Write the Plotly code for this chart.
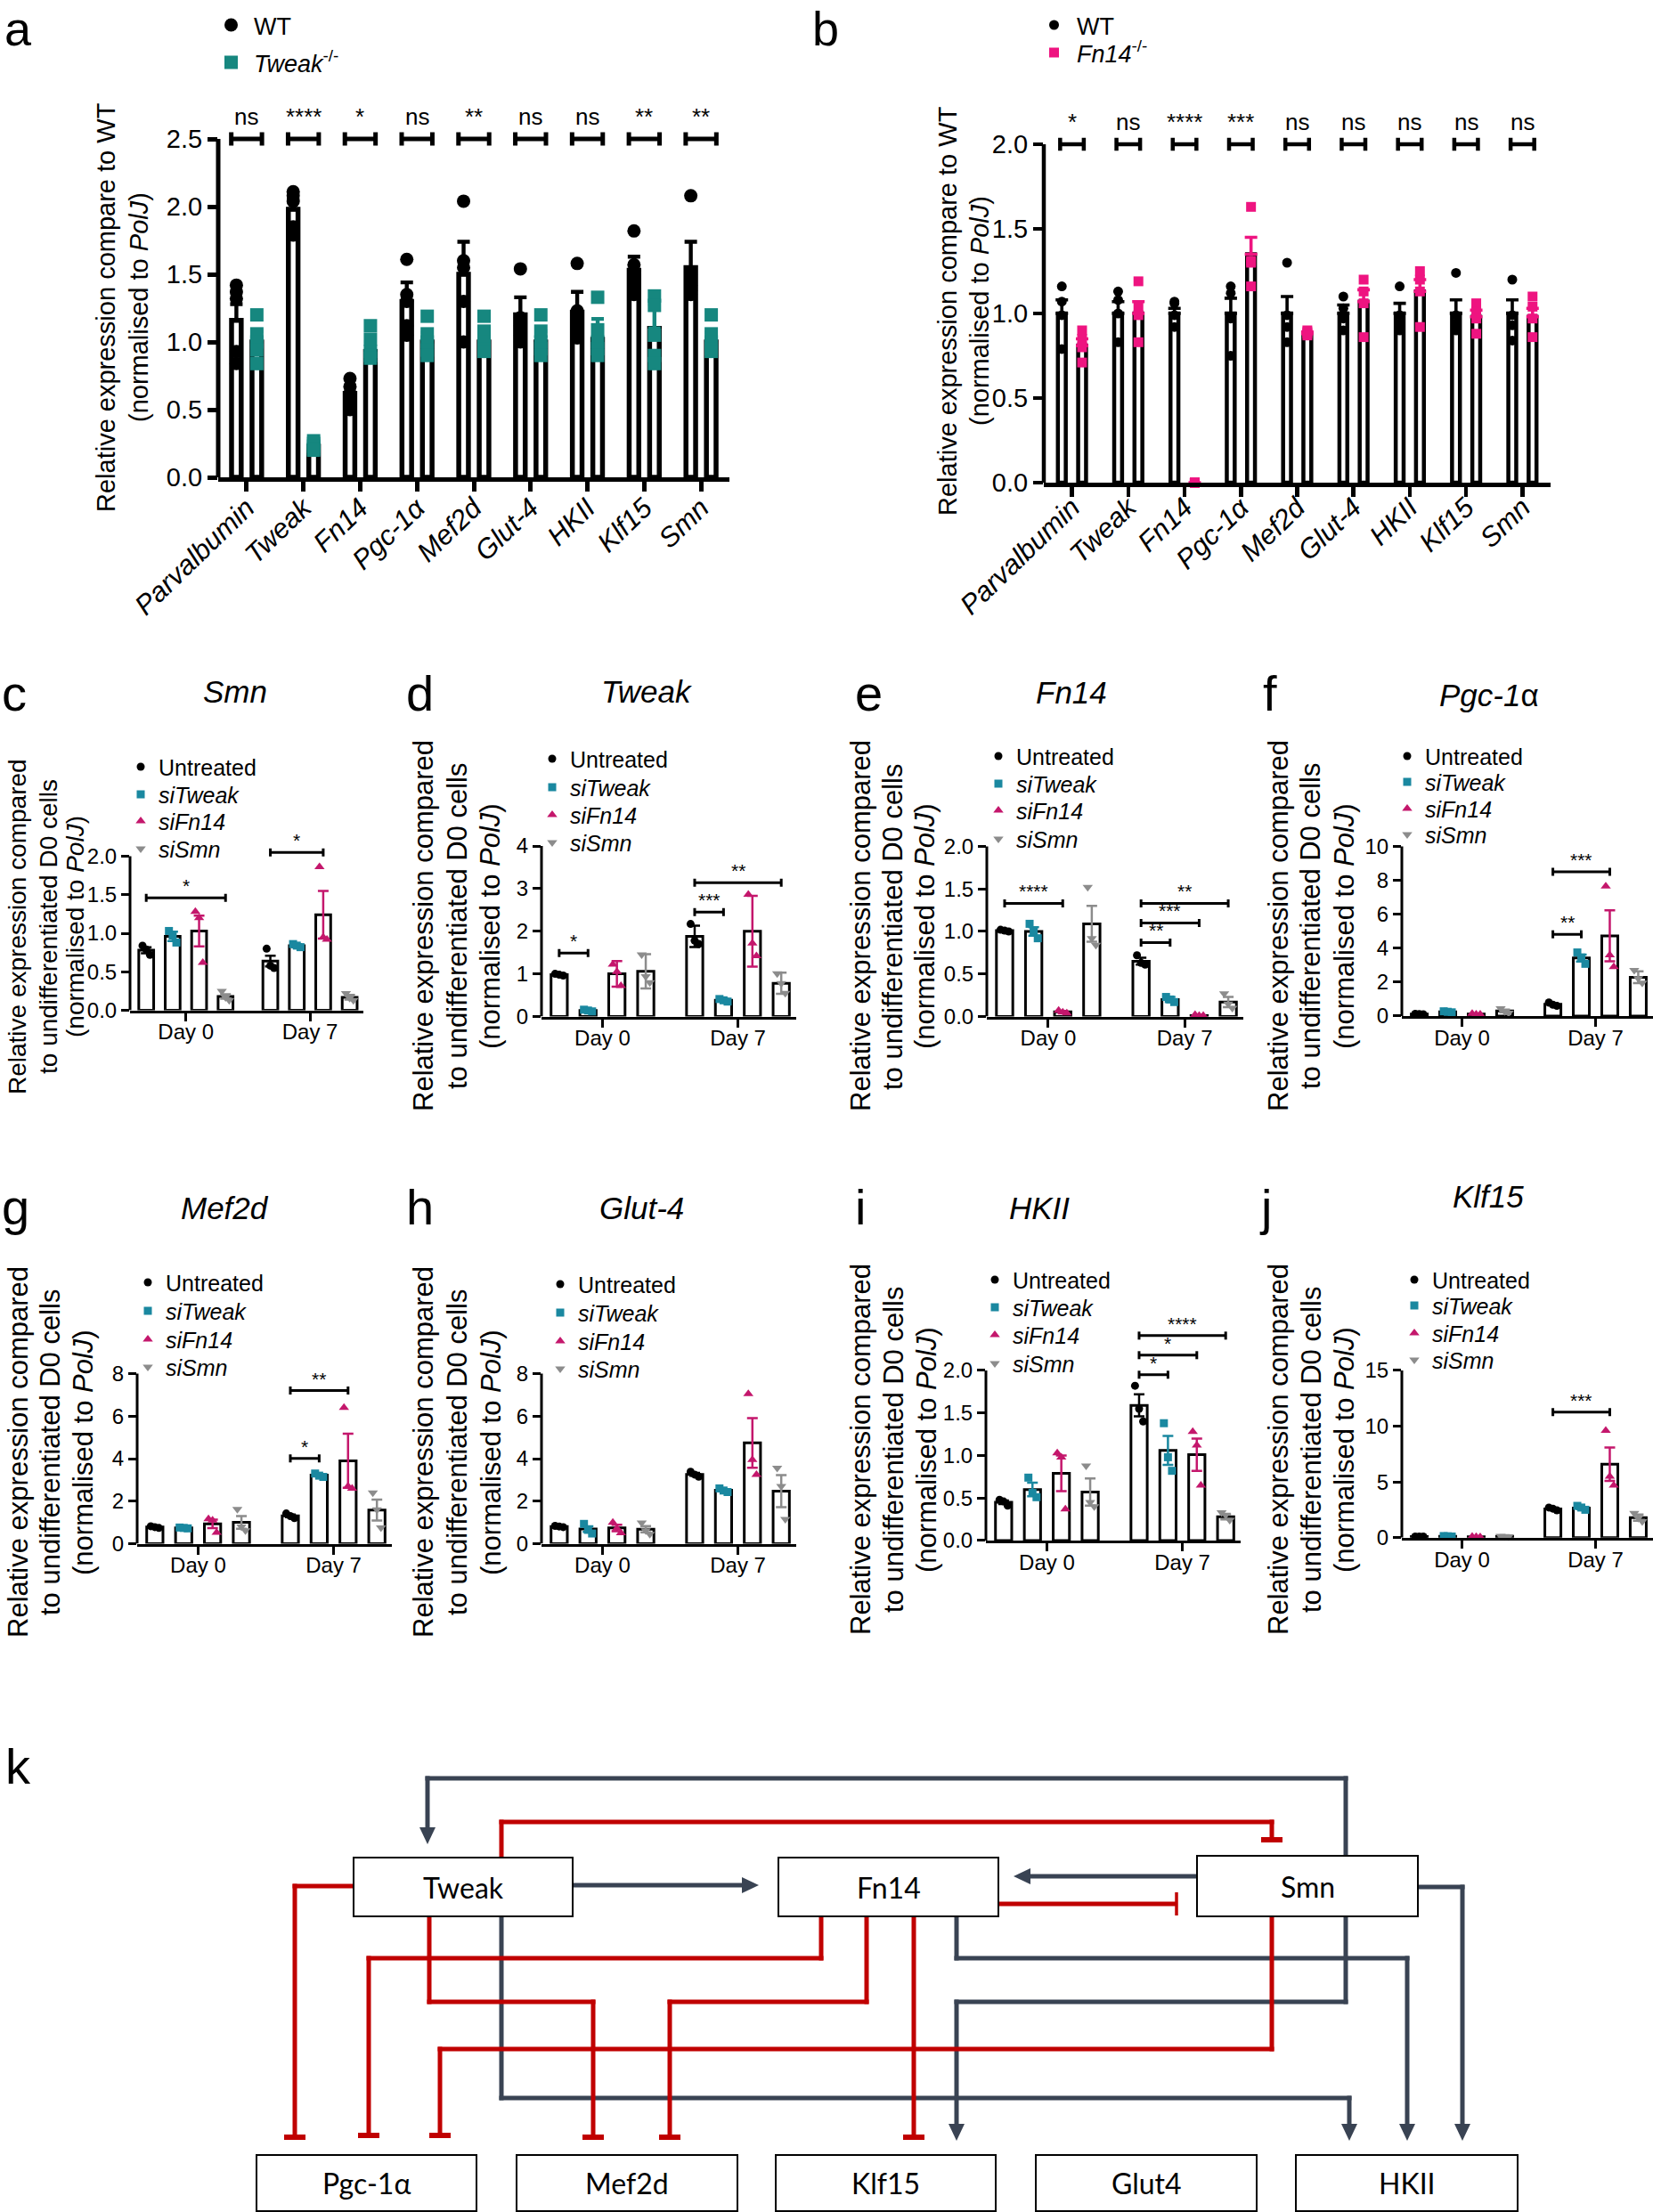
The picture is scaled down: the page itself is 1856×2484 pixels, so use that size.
import plotly.graph_objects as go

W, H = 1856, 2484
FONT = "Liberation Sans, Arial, Helvetica, sans-serif"
BOXFONT = "Lato, Open Sans, sans-serif"

# ---------------- Panels a / b : data ----------------
genes = ["Parvalbumin", "Tweak", "Fn14", "Pgc-1α", "Mef2d", "Glut-4", "HKII", "Klf15", "Smn"]

a_wt_mean = [1.16, 1.98, 0.62, 1.30, 1.50, 1.20, 1.22, 1.53, 1.55]
a_wt_err = [0.12, 0.07, 0.05, 0.14, 0.24, 0.13, 0.15, 0.10, 0.19]
a_ko_mean = [1.00, 0.23, 0.93, 1.00, 1.00, 1.00, 1.02, 1.10, 1.00]
a_ko_err = [0.08, 0.02, 0.07, 0.07, 0.07, 0.08, 0.15, 0.18, 0.07]
a_wt_pts = [[1.42, 1.37, 1.32, 0.93, 0.84], [2.11, 2.08, 2.04, 1.85, 1.79],
            [0.73, 0.67, 0.62, 0.55, 0.50], [1.61, 1.35, 1.30, 1.12, 1.05],
            [2.04, 1.60, 1.55, 1.30, 1.00], [1.54, 1.18, 1.12, 1.05, 1.00],
            [1.58, 1.23, 1.17, 1.10, 1.03], [1.82, 1.57, 1.50, 1.42, 1.35],
            [2.08, 1.50, 1.42, 1.38, 1.35]]
a_ko_pts = [[1.20, 1.06, 1.00, 0.94, 0.84], [0.27, 0.25, 0.23, 0.21, 0.20],
            [1.12, 1.02, 0.93, 0.90, 0.88], [1.19, 1.06, 1.00, 0.94, 0.90],
            [1.19, 1.08, 1.00, 0.95, 0.93], [1.20, 1.08, 1.00, 0.95, 0.90],
            [1.33, 1.09, 1.00, 0.95, 0.90], [1.34, 1.27, 1.05, 0.90, 0.84],
            [1.20, 1.06, 1.00, 0.95, 0.93]]
a_sig = ["ns", "****", "*", "ns", "**", "ns", "ns", "**", "**"]

b_wt_mean = [1.00, 1.00, 1.00, 1.00, 1.00, 1.00, 1.00, 1.00, 1.00]
b_wt_err = [0.08, 0.07, 0.03, 0.09, 0.10, 0.05, 0.06, 0.08, 0.08]
b_ko_mean = [0.81, 1.00, 0.00, 1.35, 0.88, 1.07, 1.13, 0.98, 0.98]
b_ko_err = [0.04, 0.07, 0.00, 0.10, 0.01, 0.07, 0.07, 0.04, 0.05]
b_wt_pts = [[1.16, 1.07, 0.99, 0.79], [1.13, 1.08, 1.00, 0.83], [1.07, 1.06, 0.99, 0.92],
            [1.16, 1.12, 0.97, 0.75], [1.30, 0.99, 0.92, 0.83], [1.10, 1.03, 0.97, 0.90],
            [1.16, 0.99, 0.94, 0.90], [1.24, 0.99, 0.94, 0.90], [1.20, 0.99, 0.93, 0.84]]
b_ko_pts = [[0.90, 0.85, 0.80, 0.71], [1.19, 1.04, 0.99, 0.83], [0.0, 0.0, 0.0, 0.0],
            [1.63, 1.31, 1.30, 1.16], [0.90, 0.89, 0.88, 0.87], [1.20, 1.13, 1.06, 0.86],
            [1.25, 1.20, 1.13, 0.92], [1.06, 1.01, 0.97, 0.88], [1.10, 1.04, 0.97, 0.86]]
b_sig = ["*", "ns", "****", "***", "ns", "ns", "ns", "ns", "ns"]

# ---------------- Panels c-j : data ----------------
treatments = ["Untreated", "<i>siTweak</i>", "<i>siFn14</i>", "<i>siSmn</i>"]
days = ["Day 0", "Day 7"]

c_mean = [[0.78, 0.64], [0.96, 0.84], [1.03, 1.24], [0.18, 0.17]]
c_err = [[0.04, 0.07], [0.06, 0.02], [0.20, 0.31], [0.03, 0.03]]
c_pts = [[[0.84, 0.79, 0.72], [0.80, 0.58, 0.55]], [[1.03, 0.97, 0.88], [0.86, 0.84, 0.82]],
         [[1.28, 1.20, 0.62], [1.86, 0.95, 0.92]], [[0.25, 0.17, 0.13], [0.22, 0.16, 0.13]]]
c_sig = [(0, 0, 3, 1.46, "*"), (1, 0, 2, 2.05, "*")]

d_mean = [[0.98, 1.88], [0.14, 0.38], [1.00, 2.00], [1.06, 0.78]]
d_err = [[0.02, 0.25], [0.02, 0.03], [0.30, 0.83], [0.40, 0.25]]
d_pts = [[[1.00, 0.98, 0.96], [2.17, 1.78, 1.70]], [[0.16, 0.14, 0.12], [0.41, 0.38, 0.35]],
         [[1.22, 1.05, 0.72], [2.86, 1.72, 1.42]], [[1.45, 0.94, 0.80], [1.01, 0.78, 0.55]]]
d_sig = [(0, 0, 1, 1.49, "*"), (1, 0, 1, 2.45, "***"), (1, 0, 3, 3.14, "**")]

e_mean = [[1.01, 0.65], [1.00, 0.20], [0.055, 0.01], [1.09, 0.17]]
e_err = [[0.01, 0.04], [0.05, 0.03], [0.01, 0.005], [0.21, 0.06]]
e_pts = [[[1.02, 1.01, 1.00], [0.72, 0.63, 0.61]], [[1.09, 1.00, 0.92], [0.23, 0.20, 0.17]],
         [[0.07, 0.05, 0.04], [0.02, 0.01, 0.01]], [[1.52, 0.92, 0.84], [0.27, 0.15, 0.10]]]
e_sig = [(0, 0, 2, 1.33, "****"), (1, 0, 1, 0.87, "**"), (1, 0, 2, 1.10, "***"), (1, 0, 3, 1.33, "**")]

f_mean = [[0.12, 0.69], [0.25, 3.42], [0.12, 4.73], [0.30, 2.29]]
f_err = [[0.01, 0.06], [0.02, 0.20], [0.02, 1.50], [0.08, 0.35]]
f_pts = [[[0.13, 0.12, 0.11], [0.80, 0.67, 0.60]], [[0.28, 0.25, 0.22], [3.75, 3.45, 3.08]],
         [[0.14, 0.11, 0.10], [7.65, 3.60, 2.90]], [[0.45, 0.28, 0.18], [2.70, 2.22, 1.96]]]
f_sig = [(1, 0, 1, 4.82, "**"), (1, 0, 2, 8.5, "***")]

g_mean = [[0.78, 1.31], [0.74, 3.22], [0.93, 3.90], [1.00, 1.58]]
g_err = [[0.02, 0.06], [0.01, 0.05], [0.20, 1.27], [0.30, 0.49]]
g_pts = [[[0.82, 0.78, 0.74], [1.42, 1.30, 1.20]], [[0.76, 0.74, 0.72], [3.30, 3.20, 3.14]],
         [[1.16, 1.10, 0.52], [6.40, 2.70, 2.60]], [[1.62, 0.80, 0.62], [2.40, 1.60, 0.75]]]
g_sig = [(1, 0, 1, 4.01, "*"), (1, 0, 2, 7.2, "**")]

h_mean = [[0.81, 3.26], [0.69, 2.51], [0.74, 4.74], [0.68, 2.47]]
h_err = [[0.02, 0.07], [0.13, 0.05], [0.15, 1.17], [0.15, 0.75]]
h_pts = [[[0.84, 0.81, 0.78], [3.38, 3.25, 3.15]], [[0.93, 0.65, 0.48], [2.60, 2.50, 2.43]],
         [[1.00, 0.72, 0.50], [7.05, 3.95, 3.25]], [[0.98, 0.62, 0.45], [3.56, 2.70, 1.15]]]
h_sig = []

i_mean = [[0.45, 1.59], [0.60, 1.06], [0.79, 1.01], [0.57, 0.28]]
i_err = [[0.02, 0.13], [0.08, 0.17], [0.21, 0.19], [0.16, 0.03]]
i_pts = [[[0.48, 0.46, 0.41], [1.82, 1.55, 1.40]], [[0.74, 0.56, 0.51], [1.38, 0.98, 0.82]],
         [[1.03, 0.98, 0.37], [1.28, 1.12, 0.65]], [[0.88, 0.45, 0.40], [0.33, 0.30, 0.24]]]
i_sig = [(1, 0, 1, 1.95, "*"), (1, 0, 2, 2.18, "*"), (1, 0, 3, 2.41, "****")]

j_mean = [[0.10, 2.58], [0.12, 2.66], [0.08, 6.59], [0.12, 1.80]]
j_err = [[0.00, 0.08], [0.01, 0.10], [0.01, 1.50], [0.01, 0.28]]
j_pts = [[[0.10, 0.10, 0.10], [2.70, 2.60, 2.45]], [[0.14, 0.12, 0.10], [2.85, 2.70, 2.50]],
         [[0.10, 0.08, 0.06], [9.60, 5.50, 4.70]], [[0.14, 0.12, 0.10], [2.20, 1.75, 1.45]]]
j_sig = [(1, 0, 2, 11.26, "***")]

# ---------------- Panel k : schematic ----------------
node_boxes = {
    "Tweak": (397, 2086, 643, 2152), "Fn14": (874, 2086, 1121, 2152), "Smn": (1344, 2084, 1592, 2152),
    "Pgc-1α": (288, 2420, 535, 2483), "Mef2d": (580, 2420, 828, 2483), "Klf15": (871, 2420, 1118, 2483),
    "Glut4": (1163, 2420, 1411, 2483), "HKII": (1455, 2420, 1704, 2483),
}
activations = [
    [(1511, 2084), (1511, 1997), (480, 1997), (480, 2071)],
    [(643, 2117), (852, 2117)],
    [(1344, 2107), (1138, 2107)],
    [(563, 2152), (563, 2356), (1515, 2356), (1515, 2404)],
    [(1074, 2152), (1074, 2199), (1580, 2199), (1580, 2404)],
    [(1511, 2152), (1511, 2248), (1074, 2248), (1074, 2404)],
    [(1592, 2119), (1642, 2119), (1642, 2404)],
]
inhibitions = [
    [(563, 2086), (563, 2046), (1428, 2046), (1428, 2066)],
    [(1121, 2138), (1321, 2138)],
    [(397, 2118), (331, 2118), (331, 2400)],
    [(922, 2152), (922, 2199), (414, 2199), (414, 2398)],
    [(482, 2152), (482, 2248), (666, 2248), (666, 2400)],
    [(973, 2152), (973, 2248), (752, 2248), (752, 2400)],
    [(1026, 2152), (1026, 2400)],
    [(1428, 2152), (1428, 2301), (494, 2301), (494, 2398)],
]

# ================= helpers =================
def fx(p):
    return p / W


def fy(p):
    return 1 - p / H


def sid(i):
    return "" if i == 1 else str(i)


fig = go.Figure()
shapes, annots, legends, axes = [], [], {}, {}
leg_count = [0]


def new_legend(cx, cy, fs, itemwidth=30):
    leg_count[0] += 1
    key = "legend" if leg_count[0] == 1 else "legend%d" % leg_count[0]
    h = fs * 1.3 + 3
    legends[key] = dict(x=fx(cx - 20), y=fy(cy - 5 - h / 2), xanchor="left", yanchor="top",
                        bgcolor="rgba(0,0,0,0)", borderwidth=0, itemsizing="trace",
                        itemwidth=itemwidth, font=dict(family=FONT, size=fs, color="black"))
    return key


def setup_axes(i, g, xrange, xtv, xtt, xfont, xangle, ytv, ytt, yfont, lw, tlen, xstand):
    s = sid(i)
    top = g["y0"] - (g["y0"] - g["ytp"]) * g["ymax"] / g["ytv"]
    axes["xaxis" + s] = dict(domain=[fx(g["xl"]), fx(g["xr"])], range=xrange, anchor="y" + s,
                             showline=True, linecolor="black", linewidth=lw, ticks="outside",
                             ticklen=tlen, tickwidth=lw, tickcolor="black", tickvals=xtv, ticktext=xtt,
                             tickfont=xfont, tickangle=xangle, showgrid=False, zeroline=False,
                             automargin=False, ticklabelstandoff=xstand)
    axes["yaxis" + s] = dict(domain=[fy(g["y0"]), fy(top)], range=[0, g["ymax"]], anchor="x" + s,
                             showline=False, ticks="outside", ticklen=tlen, tickwidth=lw,
                             tickcolor="black", tickvals=ytv, ticktext=ytt, tickfont=yfont,
                             showgrid=False, zeroline=False, automargin=False)
    shapes.append(dict(type="line", xref="x%s domain" % s, yref="y" + s, x0=0, x1=0, y0=0,
                       y1=g["ytv"], line=dict(color="black", width=lw), layer="above"))


def add_text(x, y, text, size, xref="paper", yref="paper", angle=0, xanchor="center",
             yanchor="middle", yshift=0, family=FONT):
    annots.append(dict(x=x, y=y, xref=xref, yref=yref, text=text, showarrow=False,
                       textangle=angle, xanchor=xanchor, yanchor=yanchor, yshift=yshift,
                       font=dict(family=family, size=size, color="black")))


def ytitle(lines, xs, yc, size):
    for t, xc in zip(lines, xs):
        add_text(fx(xc), fy(yc), t, size, angle=-90)


def bracket(i, x1, x2, y, half, label, lw, fs, shift):
    s = sid(i)
    for (a0, a1, b0, b1) in [(x1, x2, y, y), (x1, x1, y - half, y + half), (x2, x2, y - half, y + half)]:
        shapes.append(dict(type="line", xref="x" + s, yref="y" + s, x0=a0, x1=a1, y0=b0, y1=b1,
                           line=dict(color="black", width=lw), layer="above"))
    add_text((x1 + x2) / 2, y, label, fs, xref="x" + s, yref="y" + s, yanchor="bottom", yshift=shift)


def letter(ch, x):
    annots.append(dict(x=fx(x), y=1, xref="paper", yref="paper", text=ch, showarrow=False,
                       xanchor="left", yanchor="top", font=dict(family=FONT, size=54, color="black")))


# ================= panels a & b =================
ab_lines = ["Relative expression compare to WT", "(normalised to <i>PolJ</i>)"]
ab_specs = [
    dict(idx=1, g=dict(xl=245, xr=819, y0=536, ytp=156, ytv=2.5, ymax=2.85), wt_m=a_wt_mean,
         wt_e=a_wt_err, ko_m=a_ko_mean, ko_e=a_ko_err, wt_p=a_wt_pts, ko_p=a_ko_pts, sig=a_sig,
         color="#16877f", ko_name="<i>Tweak</i><sup>-/-</sup>", bw=0.17, lw=5.5, ms=15, axlw=5,
         br_half=0.05, br_w=0.27, br_y=2.5, leg=[(254, 28), (254, 70)], ytick=0.5,
         tx=(119, 156), ty=345, let=("a", 3), stand=-12, sshift=8),
    dict(idx=2, g=dict(xl=1172, xr=1741, y0=542, ytp=162, ytv=2.0, ymax=2.25), wt_m=b_wt_mean,
         wt_e=b_wt_err, ko_m=b_ko_mean, ko_e=b_ko_err, wt_p=b_wt_pts, ko_p=b_ko_pts, sig=b_sig,
         color="#ee1480", ko_name="<i>Fn14</i><sup>-/-</sup>", bw=0.14, lw=4.5, ms=11, axlw=4.5,
         br_half=0.038, br_w=0.21, br_y=2.0, leg=[(1178, 28), (1178, 59)], ytick=0.5,
         tx=(1064, 1100), ty=349, let=("b", 910), stand=-18, sshift=8),
]
for sp in ab_specs:
    i, g = sp["idx"], sp["g"]
    s = sid(i)
    n = len(genes)
    ytv = [k * sp["ytick"] for k in range(int(round(g["ytv"] / sp["ytick"])) + 1)]
    setup_axes(i, g, [-0.5, n - 0.5], list(range(n)), ["<i>%s</i>" % t for t in genes],
               dict(family=FONT, size=31, color="black"), -44, ytv, ["%.1f" % v for v in ytv],
               dict(family=FONT, size=29, color="black"), sp["axlw"], 11, sp["stand"])
    xw = [k - 0.18 for k in range(n)]
    xk = [k + 0.18 for k in range(n)]
    for xs, m, e, col in [(xw, sp["wt_m"], sp["wt_e"], "black"), (xk, sp["ko_m"], sp["ko_e"], sp["color"])]:
        fig.add_trace(go.Bar(x=xs, y=m, width=sp["bw"], xaxis="x" + s, yaxis="y" + s,
                             marker=dict(color="white", line=dict(color="black", width=sp["lw"])),
                             error_y=dict(type="data", array=e, arrayminus=[0] * n, symmetric=False,
                                          color=col, thickness=sp["lw"] * 0.8, width=7),
                             showlegend=False, hoverinfo="skip"))
    for xs, pts, col, sym, name, lg in [(xw, sp["wt_p"], "black", "circle", "WT", sp["leg"][0]),
                                        (xk, sp["ko_p"], sp["color"], "square", sp["ko_name"], sp["leg"][1])]:
        px_, py_ = [], []
        for k in range(n):
            for v in pts[k]:
                px_.append(xs[k])
                py_.append(v)
        fig.add_trace(go.Scatter(x=px_, y=py_, mode="markers", xaxis="x" + s, yaxis="y" + s,
                                 marker=dict(symbol=sym, size=sp["ms"], color=col, line=dict(width=0)),
                                 name=name, legend=new_legend(lg[0], lg[1], 27, 41), cliponaxis=False,
                                 hoverinfo="skip"))
    for k in range(n):
        bracket(i, k - sp["br_w"], k + sp["br_w"], sp["br_y"], sp["br_half"], sp["sig"][k],
                sp["axlw"], 26, sp["sshift"])
    ytitle(ab_lines, sp["tx"], sp["ty"], 29)
    letter(*sp["let"])

# ================= panels c-j =================
cj_lines = ["Relative expression compared", "to undifferentiated D0 cells", "(normalised to <i>PolJ</i>)"]
t_colors = ["#000000", "#1a88a0", "#c4176c", "#8c8c8c"]
t_symbols = ["circle", "square", "triangle-up", "triangle-down"]
cj_specs = [
    dict(idx=3, title="<i>Smn</i>", tc=(264, 776), let=("c", 0), mean=c_mean, err=c_err, pts=c_pts,
         sig=c_sig, g=dict(xl=146, xr=408, y0=1134.6, ytp=961.5, ytv=2.0, ymax=2.35), dt=0.5, fmt="%.1f",
         leg=(158, [861, 892, 922, 953]), tx=(19, 54, 84), ty=1041, ts=28),
    dict(idx=4, title="<i>Tweak</i>", tc=(726, 776), let=("d", 454), mean=d_mean, err=d_err, pts=d_pts,
         sig=d_sig, g=dict(xl=608, xr=894, y0=1141.5, ytp=950, ytv=4, ymax=4.1), dt=1, fmt="%d",
         leg=(620, [852, 884, 915, 946]), tx=(475, 513, 550), ty=1040, ts=31),
    dict(idx=5, title="<i>Fn14</i>", tc=(1203, 777), let=("e", 958), mean=e_mean, err=e_err, pts=e_pts,
         sig=e_sig, g=dict(xl=1108, xr=1396, y0=1141.5, ytp=950.5, ytv=2.0, ymax=2.05), dt=0.5, fmt="%.1f",
         leg=(1121, [849, 880, 910, 942]), tx=(966, 1002, 1038), ty=1040, ts=31),
    dict(idx=6, title="<i>Pgc-1</i>α", tc=(1672, 780), let=("f", 1416), mean=f_mean, err=f_err,
         pts=f_pts, sig=f_sig, g=dict(xl=1574, xr=1856, y0=1141, ytp=950.5, ytv=10, ymax=10.25), dt=2,
         fmt="%d", leg=(1580, [849, 878, 908, 937]), tx=(1435, 1471, 1509), ty=1040, ts=31),
    dict(idx=7, title="<i>Mef2d</i>", tc=(253, 1356), let=("g", 0), mean=g_mean, err=g_err, pts=g_pts,
         sig=g_sig, g=dict(xl=154, xr=440, y0=1733.5, ytp=1542.5, ytv=8, ymax=8.2), dt=2, fmt="%d",
         leg=(166, [1440, 1472, 1504, 1535]), tx=(20, 56, 93), ty=1631, ts=31),
    dict(idx=8, title="<i>Glut-4</i>", tc=(720, 1356), let=("h", 454), mean=h_mean, err=h_err,
         pts=h_pts, sig=h_sig, g=dict(xl=608, xr=894, y0=1733.5, ytp=1542.5, ytv=8, ymax=8.2), dt=2,
         fmt="%d", leg=(629, [1442, 1474, 1506, 1537]), tx=(475, 513, 551), ty=1631, ts=31),
    dict(idx=9, title="<i>HKII</i>", tc=(1167, 1356), let=("i", 958), mean=i_mean, err=i_err,
         pts=i_pts, sig=i_sig, g=dict(xl=1107, xr=1393, y0=1730, ytp=1539, ytv=2.0, ymax=2.65), dt=0.5,
         fmt="%.1f", leg=(1117, [1437, 1468, 1499, 1531]), tx=(966, 1003, 1040), ty=1628, ts=31),
    dict(idx=10, title="<i>Klf15</i>", tc=(1671, 1343), let=("j", 1412), mean=j_mean, err=j_err,
         pts=j_pts, sig=j_sig, g=dict(xl=1574, xr=1856, y0=1726.7, ytp=1539, ytv=15, ymax=15.3), dt=5,
         fmt="%d", leg=(1588, [1437, 1466, 1497, 1527]), tx=(1435, 1472, 1509), ty=1628, ts=31),
]
letter_rows = {"c": 745, "d": 745, "e": 745, "f": 745, "g": 1322, "h": 1322, "i": 1322, "j": 1322}
SPACING, BW = 0.213, 0.12
JIT = [-0.03, 0.0, 0.03]
for sp in cj_specs:
    i, g = sp["idx"], sp["g"]
    s = sid(i)
    nt = int(round(g["ytv"] / sp["dt"]))
    ytv = [k * sp["dt"] for k in range(nt + 1)]
    setup_axes(i, g, [-0.45, 1.43], [0, 1], days, dict(family=FONT, size=24, color="black"), 0,
               ytv, [sp["fmt"] % v for v in ytv], dict(family=FONT, size=24, color="black"), 3, 9, -8)
    ppu = (g["y0"] - g["ytp"]) / g["ytv"]
    xpos = [[d + (k - 1.5) * SPACING for d in range(2)] for k in range(4)]
    for k in range(4):
        fig.add_trace(go.Bar(x=xpos[k], y=sp["mean"][k], width=BW, xaxis="x" + s, yaxis="y" + s,
                             marker=dict(color="white", line=dict(color="black", width=3)),
                             error_y=dict(type="data", array=sp["err"][k], color=t_colors[k],
                                          thickness=2.5, width=6),
                             showlegend=False, hoverinfo="skip"))
    for k in range(4):
        px_, py_ = [], []
        for d in range(2):
            for m, v in enumerate(sp["pts"][k][d]):
                px_.append(xpos[k][d] + JIT[m])
                py_.append(v)
        fig.add_trace(go.Scatter(x=px_, y=py_, mode="markers", xaxis="x" + s, yaxis="y" + s,
                                 marker=dict(symbol=t_symbols[k], size=9 if k < 2 else 10,
                                             color=t_colors[k], line=dict(width=0)),
                                 name=treatments[k], legend=new_legend(sp["leg"][0], sp["leg"][1][k], 25),
                                 cliponaxis=False, hoverinfo="skip"))
    for (d, k1, k2, y, lab) in sp["sig"]:
        bracket(i, xpos[k1][d], xpos[k2][d], y, 4.5 / ppu, lab, 3, 21, 0)
    add_text(fx(sp["tc"][0]), fy(sp["tc"][1]), sp["title"], 35)
    ytitle(cj_lines, sp["tx"], sp["ty"], sp["ts"])
    ch, lx = sp["let"]
    annots.append(dict(x=fx(lx), y=fy(letter_rows[ch]), xref="paper", yref="paper", text=ch,
                       showarrow=False, xanchor="left", yanchor="top",
                       font=dict(family=FONT, size=56, color="black")))

# ================= panel k =================
axes["xaxis11"] = dict(domain=[0, 1], range=[0, W], visible=False, anchor="y11")
axes["yaxis11"] = dict(domain=[0, fy(1940)], range=[H, 1940], visible=False, anchor="x11")
DARK, RED = "#394353", "#c00000"


def kline(x0, y0, x1, y1, color, w):
    shapes.append(dict(type="line", xref="x11", yref="y11", x0=x0, y0=y0, x1=x1, y1=y1,
                       line=dict(color=color, width=w), layer="above"))


def draw_edge(pts, color, kind):
    (xa, ya), (xb, yb) = pts[-2], pts[-1]
    dx, dy = xb - xa, yb - ya
    L = (dx * dx + dy * dy) ** 0.5
    ux, uy = dx / L, dy / L
    pts = list(pts)
    if kind == "arrow":
        alen, ahw = 19, 9
        bx, by = xb - ux * alen, yb - uy * alen
        pts[-1] = (bx + ux * 2, by + uy * 2)
        shapes.append(dict(type="path", xref="x11", yref="y11",
                           path="M %f,%f L %f,%f L %f,%f Z" % (xb, yb, bx - uy * ahw, by + ux * ahw,
                                                               bx + uy * ahw, by - ux * ahw),
                           fillcolor=color, line=dict(color=color, width=0), layer="above"))
    ext = 2.5
    for m in range(len(pts) - 1):
        (p0x, p0y), (p1x, p1y) = pts[m], pts[m + 1]
        sx, sy = p1x - p0x, p1y - p0y
        sl = (sx * sx + sy * sy) ** 0.5
        vx, vy = sx / sl, sy / sl
        e0 = ext if m > 0 else 0
        e1 = ext if m < len(pts) - 2 else 0
        kline(p0x - vx * e0, p0y - vy * e0, p1x + vx * e1, p1y + vy * e1, color, 5)
    if kind == "inhibit":
        if abs(ux) > abs(uy):
            kline(xb, yb - 13, xb, yb + 13, color, 3.5)
        else:
            kline(xb - 12, yb, xb + 12, yb, color, 6)


for e in activations:
    draw_edge(e, DARK, "arrow")
for e in inhibitions:
    draw_edge(e, RED, "inhibit")
for name, (x0, y0, x1, y1) in node_boxes.items():
    shapes.append(dict(type="rect", xref="x11", yref="y11", x0=x0, y0=y0, x1=x1, y1=y1,
                       fillcolor="white", line=dict(color="black", width=2), layer="above"))
    add_text((x0 + x1) / 2, (y0 + y1) / 2, name, 32, xref="x11", yref="y11", family=BOXFONT)
annots.append(dict(x=fx(4), y=fy(1950), xref="paper", yref="paper", text="k", showarrow=False,
                   xanchor="left", yanchor="top", font=dict(family=FONT, size=56, color="black")))

fig.update_layout(width=W, height=H, margin=dict(l=0, r=0, t=0, b=0, pad=0, autoexpand=False),
                  paper_bgcolor="white", plot_bgcolor="rgba(0,0,0,0)", barmode="overlay",
                  showlegend=True, hovermode=False, font=dict(family=FONT, color="black"),
                  shapes=shapes, annotations=annots, **axes, **legends)
fig.write_html("out.html", config={"displayModeBar": False, "staticPlot": True},
               post_script="document.body.style.margin='0px';document.body.style.overflow='hidden';")
